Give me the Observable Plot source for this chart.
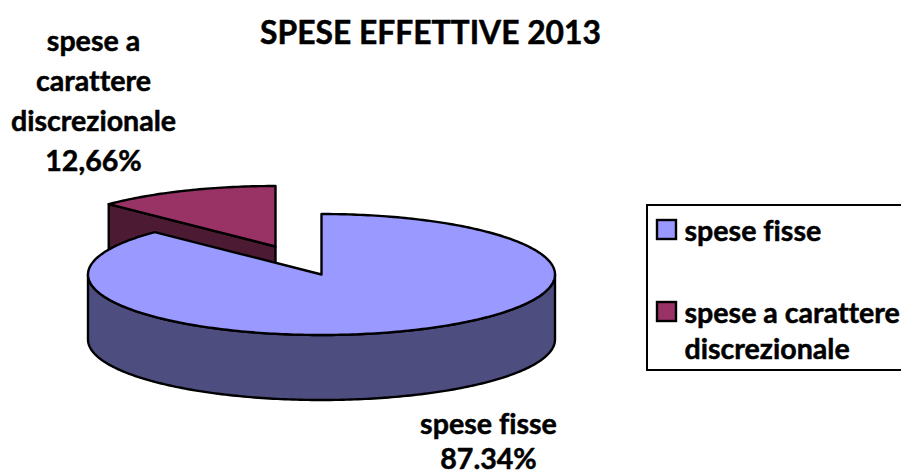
<!DOCTYPE html>
<html><head><meta charset="utf-8">
<script src="https://cdn.jsdelivr.net/npm/d3@7"></script>
<script src="https://cdn.jsdelivr.net/npm/@observablehq/plot@0.6"></script>
<style>html,body{margin:0;padding:0;background:#fff}svg{display:block}svg text{font-variant-ligatures:none;font-feature-settings:"liga" 0,"dlig" 0}</style>
</head><body><div id="chart"></div>
<script>
const categories = ["spese fisse", "spese a carattere discrezionale"];
const shares = [87.34, 12.66];
const pieLabelLines = [["spese fisse", "87.34%"], ["spese a", "carattere", "discrezionale", "12,66%"]];
const legendLines = [["spese fisse"], ["spese a carattere", "discrezionale"]];
const titleText = "SPESE EFFETTIVE 2013";

// layout of the projected disc
const W = 901, H = 474, FONT = "Lato, Carlito, sans-serif";
const disc = {cx: 321, cy: 274, rx: 233.5, ry: 60.5, depth: 65};
const explode = [{dx: 0, dy: 0}, {dx: -46, dy: -28}];
const topColors = ["#9999FF", "#993366"];
const wallColors = ["#4D4D80", "#4D1A33"];
const LABEL = 28.6, TITLE = 31.8;

// angles from the values: clockwise from 12 o'clock
const total = d3.sum(shares);
let acc = 0;
const slices = shares.map((v, i) => {
  const start = acc / total * 2 * Math.PI; acc += v;
  return {i, start, end: acc / total * 2 * Math.PI, ...explode[i]};
});
const pt = (s, a, drop = 0) => ({
  x: disc.cx + s.dx + disc.rx * Math.sin(a),
  y: disc.cy + s.dy - disc.ry * Math.cos(a) + drop
});
const arc = (s, a0, a1, drop = 0) => {
  const n = Math.max(2, Math.ceil(Math.abs(a1 - a0) * 60));
  return d3.range(n + 1).map(k => pt(s, a0 + (a1 - a0) * k / n, drop));
};
const apex = (s, drop = 0) => ({x: disc.cx + s.dx, y: disc.cy + s.dy + drop});
const closed = p => [...p, p[0]];
const topFace = s => closed([apex(s), ...arc(s, s.start, s.end)]);

const [main, minor] = slices;
// outer wall of the big slice: only the near half of the rim shows
const mainWall = closed([...arc(main, Math.PI / 2, 3 * Math.PI / 2),
                         ...arc(main, 3 * Math.PI / 2, Math.PI / 2, disc.depth)]);
// cut face of the small slice, seen along its starting radius
const minorWall = closed([pt(minor, minor.start), apex(minor), apex(minor, disc.depth), pt(minor, minor.start, disc.depth)]);

const face = (pts, fill) => Plot.line(pts, {x: "x", y: "y", fill, stroke: "#000", strokeWidth: 2.4, strokeLinejoin: "round", curve: "linear"});

// y below is the text baseline; lineAnchor "middle" sits the baseline 0.32em under the anchor
const textRows = (lines, x, ys) => lines.map((text, k) => ({text, x, y: ys[k] - 0.32 * LABEL}));
const labelRows = [
  ...textRows(pieLabelLines[0], 488, [433, 468]),
  ...textRows(pieLabelLines[1], 93, [50, 90, 130, 170])
];
const legendRows = [
  ...textRows(legendLines[0], 684, [240]),
  ...textRows(legendLines[1], 684, [322, 358])
];
const swatches = [
  {x1: 657, x2: 676, y1: 220, y2: 239, c: topColors[0]},
  {x1: 657, x2: 676, y1: 302, y2: 321, c: topColors[1]}
];
const heavy = {fill: "#000", stroke: "#000", strokeWidth: 0.5, fontWeight: 700, lineAnchor: "middle"};

const plot = Plot.plot({
  width: W, height: H, margin: 0,
  style: {background: "#fff", fontFamily: FONT},
  x: {domain: [0, W], range: [0, W], axis: null},
  y: {domain: [0, H], range: [0, H], axis: null},
  marks: [
    face(minorWall, wallColors[1]),
    face(topFace(minor), topColors[1]),
    face(mainWall, wallColors[0]),
    face(topFace(main), topColors[0]),
    Plot.text([titleText], {x: () => 430, y: () => 43 - 0.32 * TITLE, text: d => d, fontSize: TITLE, ...heavy}),
    Plot.text(labelRows, {x: "x", y: "y", text: "text", fontSize: LABEL, ...heavy}),
    Plot.rect([{}], {x1: () => 647, x2: () => 912, y1: () => 205, y2: () => 370, fill: "none", stroke: "#000", strokeWidth: 2}),
    Plot.rect(swatches, {x1: "x1", x2: "x2", y1: "y1", y2: "y2", fill: "c", stroke: "#000", strokeWidth: 2.4}),
    Plot.text(legendRows, {x: "x", y: "y", text: "text", textAnchor: "start", fontSize: LABEL, ...heavy})
  ]
});
document.getElementById("chart").append(plot);
</script></body></html>
